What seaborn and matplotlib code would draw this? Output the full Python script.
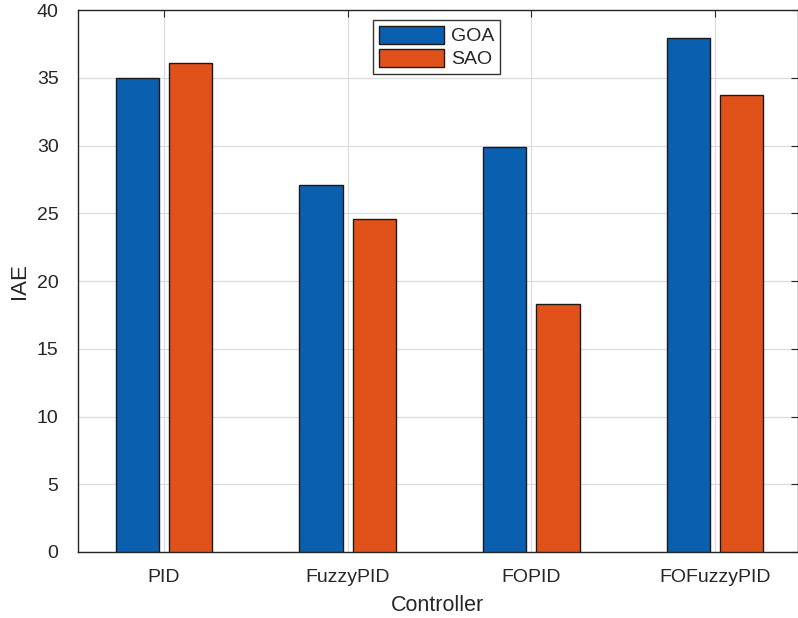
import matplotlib
matplotlib.use("Agg")
import matplotlib.pyplot as plt
import seaborn as sns
import pandas as pd

controllers = ["PID", "FuzzyPID", "FOPID", "FOFuzzyPID"]
goa = [35.0, 27.1, 29.9, 37.9]
sao = [36.1, 24.6, 18.3, 33.7]
series = ["GOA", "SAO"]
colors = ["#0B5FAF", "#E0521A"]
yticks = [0, 5, 10, 15, 20, 25, 30, 35, 40]

df = pd.DataFrame({
    "Controller": controllers * 2,
    "IAE": goa + sao,
    "Algorithm": [series[0]] * len(controllers) + [series[1]] * len(controllers),
})

sns.set_theme(style="white")
plt.rcParams["font.family"] = ["Liberation Sans", "DejaVu Sans"]

fig = plt.figure(figsize=(7.98, 6.18), dpi=100)
ax = fig.add_axes([0.0977, 0.1068, 0.9023, 0.877])

sns.barplot(data=df, x="Controller", y="IAE", hue="Algorithm", order=controllers,
            hue_order=series, palette=colors, width=0.58, gap=0.19,
            edgecolor="#1a1a1a", linewidth=1.0, saturation=1, ax=ax, zorder=3)

ax.set_ylim(0, 40)
ax.set_xlim(-0.468, 3.452)
ax.set_yticks(yticks)
ax.set_yticklabels([str(t) for t in yticks])
ax.grid(True, color="#dcdcdc", linewidth=0.9, zorder=0)
ax.set_axisbelow(True)
for s in ax.spines.values():
    s.set_visible(True)
    s.set_color("#262626")
    s.set_linewidth(1.0)
ax.tick_params(axis="both", direction="in", length=5, width=0.8, color="#262626",
               top=True, right=True, labelsize=14, labelcolor="#262626")
ax.tick_params(axis="y", pad=14)
ax.tick_params(axis="x", pad=12)
ax.set_xlabel("Controller", fontsize=15.5, color="#262626", labelpad=7)
ax.set_ylabel("IAE", fontsize=16, color="#262626", labelpad=5)

leg = ax.legend(loc="upper left", bbox_to_anchor=(0.41, 0.982), fontsize=14,
                handlelength=3.35, handleheight=1.05, labelspacing=0.18,
                handletextpad=0.35, borderpad=0.3, borderaxespad=0,
                fancybox=False, framealpha=1, edgecolor="#333333")
leg.get_frame().set_linewidth(1.0)

fig.savefig("out.png", dpi=100)
